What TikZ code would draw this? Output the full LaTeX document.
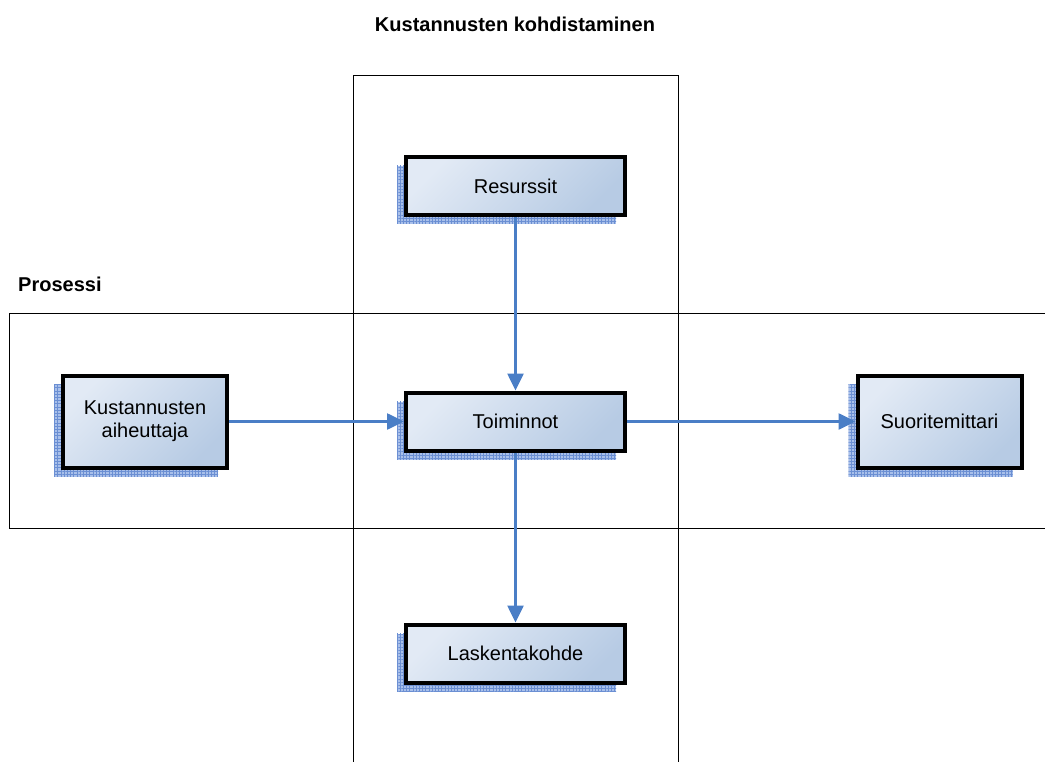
\documentclass[tikz,border=0pt]{standalone}
\usepackage{fontspec}
\setmainfont{Liberation Sans}
\usetikzlibrary{arrows.meta,shadows,patterns.meta}
\definecolor{flowblue}{HTML}{4A7EC6}
\definecolor{boxlight}{HTML}{E2EAF5}
\definecolor{boxdark}{HTML}{B7CBE4}
\definecolor{shadefill}{HTML}{A9C0EA}
\definecolor{shadegrid}{HTML}{6B8FD3}
\tikzset{
  procbox/.style={
    draw=black, line width=4pt, rectangle,
    top color=boxlight, bottom color=boxdark, shading angle=45,
    font=\fontsize{20}{23}\selectfont, align=center, text=black,
    inner sep=0pt,
    general shadow={shadow xshift=-9pt, shadow yshift=-9pt, fill=shadefill},
    general shadow={shadow xshift=-9pt, shadow yshift=-9pt,
      pattern={Lines[angle=0, distance=3.2pt, line width=0.55pt]}, pattern color=shadegrid},
    general shadow={shadow xshift=-9pt, shadow yshift=-9pt,
      pattern={Lines[angle=90, distance=3.2pt, line width=0.55pt]}, pattern color=shadegrid}
  },
  widebox/.style={procbox, minimum width=219pt, minimum height=58pt},
  tallbox/.style={procbox, minimum width=164pt, minimum height=92pt},
  flow/.style={draw=flowblue, line width=2.6pt, -{Triangle[length=17pt,width=16pt]}},
  frame/.style={draw=black, line width=0.8pt},
  heading/.style={font=\bfseries\fontsize{20}{23}\selectfont, text=black, inner sep=0pt}
}
\begin{document}
\begin{tikzpicture}[x=1pt, y=-1pt]
  \useasboundingbox (0,0) rectangle (1045,762);

  % swim-lane frames
  \draw[frame] (353,762) -- (353,75) -- (678,75) -- (678,762);
  \draw[frame] (1045,313) -- (9,313) -- (9,528) -- (1045,528);

  % headings
  \node[heading] (title) at (515,24) {Kustannusten kohdistaminen};
  \node[heading, anchor=west] (lane) at (18,284) {Prosessi};

  % process boxes
  \node[widebox] (res) at (515.5,186) {Resurssit};
  \node[tallbox] (driver) at (145,421.5) {Kustannusten\\aiheuttaja};
  \node[widebox] (act) at (515.5,421.5) {Toiminnot};
  \node[tallbox] (meas) at (939.5,421.5) {Suoritemittari};
  \node[widebox] (obj) at (515.5,653.5) {Laskentakohde};

  % flows
  \draw[flow] (res.south) -- (act.north);
  \draw[flow] (driver.east) -- (act.west);
  \draw[flow] (act.east) -- (meas.west);
  \draw[flow] (act.south) -- (obj.north);
\end{tikzpicture}
\end{document}
